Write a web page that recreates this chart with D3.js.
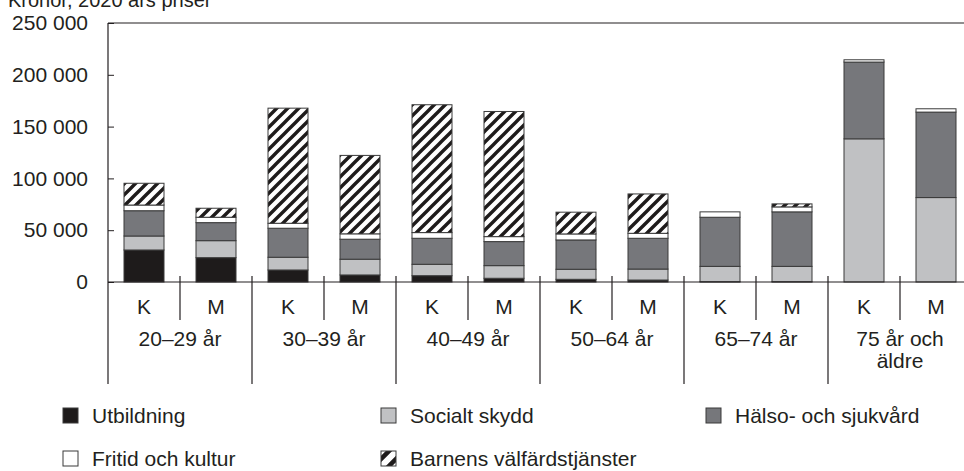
<!DOCTYPE html>
<html>
<head>
<meta charset="utf-8">
<script src="https://cdn.jsdelivr.net/npm/d3@7"></script>
<style>
  html, body { margin: 0; padding: 0; background: #fff; }
  svg { display: block; font-family: "Liberation Sans", Arial, sans-serif; }
  text { fill: #231f20; }
</style>
</head>
<body>
<svg id="chart" width="964" height="471"></svg>
<script>
// ---- data ----
const subgroups = ["K","M","K","M","K","M","K","M","K","M","K","M"];
const ageGroups = [["20–29 år"],["30–39 år"],["40–49 år"],["50–64 år"],["65–74 år"],["75 år och","äldre"]];
const utbildning = [30900, 23500, 11600, 6800, 6100, 3600, 2600, 1900, 300, 300, 0, 0];
const socialtSkydd = [13500, 16400, 12300, 15200, 11000, 12200, 9700, 10600, 14800, 14800, 138200, 81500];
const halsoSjukvard = [24400, 17400, 28000, 19300, 25100, 23200, 28300, 29700, 47400, 52600, 74100, 82500];
const fritidKultur = [5500, 5200, 4800, 5200, 5500, 4800, 5800, 4800, 5200, 4800, 2200, 3200];
const barnensValfard = [21000, 8700, 111100, 75700, 123400, 120800, 21000, 38000, 0, 2900, 0, 0];
const seriesNames = ["Utbildning","Socialt skydd","Hälso- och sjukvård","Fritid och kultur","Barnens välfärdstjänster"];
const yTicks = [0, 50000, 100000, 150000, 200000, 250000];
const title = "Kronor, 2020 års priser";

// ---- setup ----
const svg = d3.select("#chart");
const FS = 21;
const fills = ["#1e1b1b", "#c0c1c3", "#76777b", "#ffffff", "url(#hatch)"];
const legendFills = ["#1e1b1b", "#c0c1c3", "#76777b", "#ffffff", "url(#hatchL)"];

const defs = svg.append("defs");
function makeHatch(id, w, sw) {
  const p = defs.append("pattern").attr("id", id).attr("patternUnits", "userSpaceOnUse")
    .attr("width", w).attr("height", w);
  p.append("rect").attr("width", w).attr("height", w).attr("fill", "#fff");
  p.append("path")
    .attr("d", `M${-w/2},${w/2} L${w/2},${-w/2} M0,${w} L${w},0 M${w/2},${w*1.5} L${w*1.5},${w/2}`)
    .attr("stroke", "#1e1b1b").attr("stroke-width", sw);
}
makeHatch("hatch", 11, 3.4);
makeHatch("hatchL", 15, 4.5);

const plotLeft = 108, plotRight = 972, plotTop = 23, zeroY = 282, bottomLine = 384;
const idx = d3.range(subgroups.length);
const pad = 32 / 72;
const x = d3.scaleBand().domain(idx).range([plotLeft, plotRight]).paddingInner(pad).paddingOuter(pad / 2);
const y = d3.scaleLinear().domain([0, 250000]).range([zeroY, plotTop]);

const loc = d3.formatLocale({ decimal: ",", thousands: " ", grouping: [3], currency: ["", ""] });
const fmt = loc.format(",d");

// title (cut off at top as in reference)
svg.append("text").attr("x", 8).attr("y", 7).attr("font-size", 20).text(title);

// y axis
const yAxis = d3.axisLeft(y).tickValues(yTicks).tickFormat(fmt).tickSize(-6).tickPadding(20);
const gy = svg.append("g").attr("transform", `translate(${plotLeft},0)`).call(yAxis);
gy.select(".domain").remove();
gy.selectAll(".tick line").attr("stroke", "#231f20").attr("stroke-width", 1);
gy.selectAll(".tick text").attr("font-size", FS).attr("font-family", "Liberation Sans, Arial, sans-serif").attr("fill", "#231f20");

// stacked bars
const rows = idx.map(i => ({
  i,
  v: [utbildning[i], socialtSkydd[i], halsoSjukvard[i], fritidKultur[i], barnensValfard[i]]
}));
const stack = d3.stack().keys(d3.range(5)).value((d, k) => d.v[k]);
const stacked = stack(rows);

const gBars = svg.append("g");
stacked.forEach((layer, k) => {
  gBars.selectAll(null).data(layer.filter(d => d[1] - d[0] > 0)).enter().append("rect")
    .attr("x", d => x(d.data.i))
    .attr("width", x.bandwidth())
    .attr("y", d => y(d[1]))
    .attr("height", d => y(d[0]) - y(d[1]))
    .attr("fill", fills[k])
    .attr("stroke", "#3a3a3a")
    .attr("stroke-width", 1);
});

// frame lines
const step = x.step();
const ax = svg.append("g").attr("stroke", "#231f20").attr("stroke-width", 1.2).attr("fill", "none");
ax.append("line").attr("x1", plotLeft).attr("x2", 964).attr("y1", plotTop).attr("y2", plotTop);
ax.append("line").attr("x1", plotLeft).attr("x2", 964).attr("y1", zeroY).attr("y2", zeroY);
ax.append("line").attr("x1", plotLeft).attr("x2", plotLeft).attr("y1", plotTop).attr("y2", bottomLine);
// dividers between bars / groups
idx.slice(1).forEach(i => {
  const xx = x(i) - step * pad / 2;
  const isGroup = i % 2 === 0;
  ax.append("line").attr("x1", xx).attr("x2", xx)
    .attr("y1", zeroY - 6).attr("y2", isGroup ? bottomLine : 320);
});

// K / M labels
svg.append("g").selectAll("text").data(idx).enter().append("text")
  .attr("x", i => x(i) + x.bandwidth() / 2)
  .attr("y", 314)
  .attr("text-anchor", "middle")
  .attr("font-size", FS)
  .text(i => subgroups[i]);

// group labels
ageGroups.forEach((lines, g) => {
  const cx = x(g * 2) - step * pad / 2 + step;
  const t = svg.append("text").attr("text-anchor", "middle").attr("font-size", FS);
  lines.forEach((ln, j) => {
    t.append("tspan").attr("x", cx).attr("y", 346 + j * 22).text(ln);
  });
});

// legend
const legendPos = [
  { x: 63, y: 423 }, { x: 381, y: 423 }, { x: 706, y: 423 },
  { x: 63, y: 466 }, { x: 381, y: 466 }
];
const lg = svg.append("g");
seriesNames.forEach((name, k) => {
  const p = legendPos[k];
  lg.append("rect").attr("x", p.x).attr("y", p.y - 15).attr("width", 15).attr("height", 15)
    .attr("fill", legendFills[k]).attr("stroke", "#3a3a3a").attr("stroke-width", 1);
  lg.append("text").attr("x", p.x + 29).attr("y", p.y).attr("font-size", FS).text(name);
});
</script>
</body>
</html>
